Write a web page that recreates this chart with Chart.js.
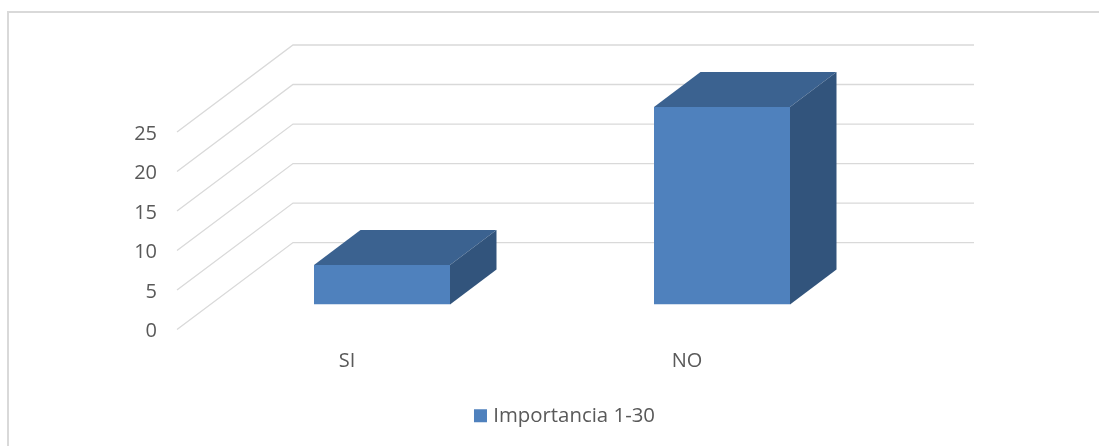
<!DOCTYPE html>
<html lang="es">
<head>
<meta charset="UTF-8">
<title>Importancia 1-30</title>
<script src="https://cdn.jsdelivr.net/npm/chart.js"></script>
<style>
    html, body { margin: 0; padding: 0; background: #ffffff; }
    #wrap { position: relative; width: 1099px; height: 446px; overflow: hidden; }
    #frame { position: absolute; left: 7px; top: 11px; width: 1200px; height: 600px; border: 2px solid #d9d9d9; box-sizing: border-box; }
    canvas { position: absolute; left: 0; top: 0; }
</style>
</head>
<body>
<div id="wrap">
    <div id="frame"></div>
    <canvas id="chart" width="1099" height="446"></canvas>
</div>
<script>
const categories = ['SI', 'NO'];
const seriesName = 'Importancia 1-30';
const seriesValues = [5, 25];
const yTicks = [0, 5, 10, 15, 20, 25];

const FRONT = '#4f81bd';
const TOP = '#3b6290';
const SIDE = '#32547c';
const GRID = '#d9d9d9';
const TEXT = '#595959';
const FONT = '"Open Sans", sans-serif';

// oblique offsets of the 3D box, px
const barDepth = { x: 46.5, y: -35 };
const floorFront = { x: -35, y: 25 };   // front edge of the side wall, from the plot origin
const floorBack = { x: 81, y: -62 };    // back wall, from the plot origin
const wallRight = 974;

// side wall and back wall lines, under the bars
const walls = {
    id: 'walls',
    beforeDatasetsDraw(chart) {
        const { ctx, chartArea, scales: { y } } = chart;
        ctx.save();
        ctx.strokeStyle = GRID;
        ctx.lineWidth = 1.3;
        yTicks.forEach(v => {
            const py = y.getPixelForValue(v);
            ctx.beginPath();
            ctx.moveTo(chartArea.left + floorFront.x, py + floorFront.y);
            ctx.lineTo(chartArea.left + floorBack.x, py + floorBack.y);
            ctx.lineTo(wallRight, py + floorBack.y);
            ctx.stroke();
        });
        ctx.restore();
    }
};

// top and side faces, the front face is the normal bar element
const boxFaces = {
    id: 'boxFaces',
    afterDatasetsDraw(chart) {
        const { ctx } = chart;
        const dx = barDepth.x, dy = barDepth.y;
        ctx.save();
        chart.getDatasetMeta(0).data.forEach(bar => {
            const { x, y, base, width } = bar.getProps(['x', 'y', 'base', 'width'], true);
            const l = x - width / 2, r = x + width / 2;
            ctx.fillStyle = TOP;
            ctx.beginPath();
            ctx.moveTo(l, y);
            ctx.lineTo(l + dx, y + dy);
            ctx.lineTo(r + dx, y + dy);
            ctx.lineTo(r, y);
            ctx.closePath();
            ctx.fill();
            ctx.fillStyle = SIDE;
            ctx.beginPath();
            ctx.moveTo(r, y);
            ctx.lineTo(r + dx, y + dy);
            ctx.lineTo(r + dx, base + dy);
            ctx.lineTo(r, base);
            ctx.closePath();
            ctx.fill();
        });
        ctx.restore();
    }
};

new Chart(document.getElementById('chart'), {
    type: 'bar',
    data: {
        labels: categories,
        datasets: [{
            label: seriesName,
            data: seriesValues,
            backgroundColor: FRONT,
            categoryPercentage: 0.4,
            barPercentage: 1
        }]
    },
    plugins: [walls, boxFaces],
    options: {
        responsive: false,
        animation: false,
        // left padding also moves the centred legend
        layout: { padding: { left: 34, right: 0, top: 107, bottom: 10 } },
        plugins: {
            tooltip: { enabled: false },
            legend: {
                position: 'bottom',
                labels: {
                    color: TEXT,
                    font: { family: FONT, size: 20.4 },
                    // small box with a thick stroke, keeps the text close to the swatch
                    boxWidth: 5,
                    boxHeight: 5,
                    padding: 5,
                    generateLabels(chart) {
                        return Chart.defaults.plugins.legend.labels.generateLabels(chart)
                            .map(item => ({ ...item, strokeStyle: FRONT, lineWidth: 8 }));
                    }
                }
            }
        },
        scales: {
            x: {
                afterFit(scale) { scale.height = 96; },
                grid: { display: false },
                border: { display: false },
                ticks: { color: TEXT, font: { family: FONT, size: 20 }, labelOffset: -35, padding: 37 }
            },
            y: {
                min: 0,
                max: 25,
                afterFit(scale) { scale.width = 178; },
                grid: { display: false },
                border: { display: false },
                ticks: { color: TEXT, font: { family: FONT, size: 20 }, stepSize: 5, labelOffset: 27, padding: 47 }
            },
            // empty axis that holds the space right of the plot
            spacer: {
                type: 'linear',
                position: 'right',
                afterFit(scale) { scale.width = 207; },
                grid: { display: false },
                border: { display: false },
                ticks: { display: false }
            }
        }
    }
});
</script>
</body>
</html>
